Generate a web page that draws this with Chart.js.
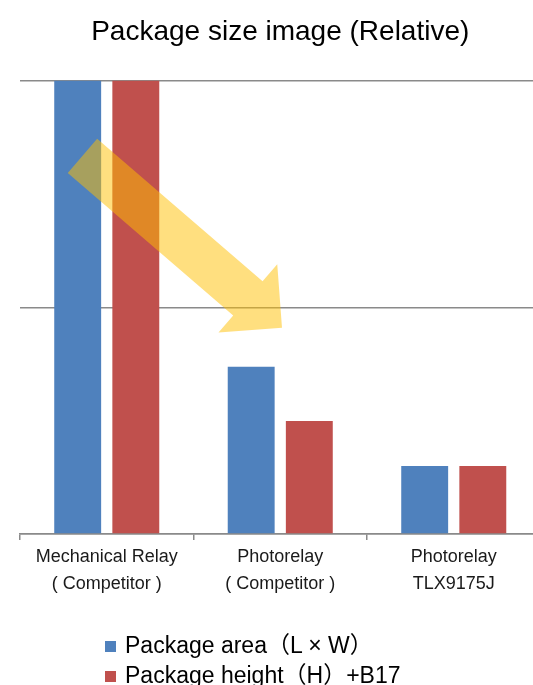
<!DOCTYPE html>
<html>
<head>
<meta charset="utf-8">
<script src="https://cdn.jsdelivr.net/npm/chart.js@4"></script>
<style>
  html, body { margin: 0; padding: 0; background: #fff; }
  #wrap { position: relative; width: 533px; height: 685px; overflow: hidden; }
  #wrap canvas { position: absolute; left: 0; top: 0; }
  #legend { position: absolute; left: 105px; top: 630px; font-family: "Liberation Sans", Arial, "Noto Sans CJK JP", sans-serif; font-size: 23px; color: #000; }
  #legend .row { height: 30px; line-height: 30px; white-space: nowrap; }
  #legend .box { display: inline-block; width: 11px; height: 11px; margin-right: 9px; vertical-align: 1px; }
</style>
</head>
<body>
<div id="wrap">
  <canvas id="c" width="568" height="685" style="width:568px;height:685px"></canvas>
  <div id="legend"></div>
</div>
<script>
const categories = [
  ["Mechanical Relay", "( Competitor )"],
  ["Photorelay", "( Competitor )"],
  ["Photorelay", "TLX9175J"]
];
const seriesNames = ["Package area（L × W）", "Package height（H）+B17"];
const packageArea = [1.0, 0.369, 0.150];
const packageHeight = [1.0, 0.249, 0.150];
const seriesColors = ["#4F81BD", "#C0504D"];
const yTicks = [0, 0.5, 1];
const titleText = "Package size image (Relative)";

// Decorative arrow: tail and tip in data space (category index, value)
const arrowTail = [-0.14, 0.834];
const arrowTip = [1.01, 0.455];

const arrowPlugin = {
  id: 'arrow',
  afterDatasetsDraw(chart) {
    const xs = chart.scales.x, ys = chart.scales.y, ctx = chart.ctx;
    const x0 = xs.getPixelForValue(arrowTail[0]), y0 = ys.getPixelForValue(arrowTail[1]);
    const x1 = xs.getPixelForValue(arrowTip[0]), y1 = ys.getPixelForValue(arrowTip[1]);
    const dx = x1 - x0, dy = y1 - y0, L = Math.hypot(dx, dy);
    const ux = dx / L, uy = dy / L, px = -uy, py = ux;
    const sw = 22.5, hw = 45, hl = 45;
    const bx = x1 - ux * hl, by = y1 - uy * hl;
    ctx.save();
    ctx.fillStyle = 'rgba(255,192,0,0.5)';
    ctx.beginPath();
    ctx.moveTo(x0 + px * sw, y0 + py * sw);
    ctx.lineTo(bx + px * sw, by + py * sw);
    ctx.lineTo(bx + px * hw, by + py * hw);
    ctx.lineTo(x1, y1);
    ctx.lineTo(bx - px * hw, by - py * hw);
    ctx.lineTo(bx - px * sw, by - py * sw);
    ctx.lineTo(x0 - px * sw, y0 - py * sw);
    ctx.closePath();
    ctx.fill();
    ctx.restore();
  }
};

const chart = new Chart(document.getElementById('c'), {
  type: 'bar',
  data: {
    labels: categories,
    datasets: [
      { label: seriesNames[0], data: packageArea, backgroundColor: seriesColors[0] },
      { label: seriesNames[1], data: packageHeight, backgroundColor: seriesColors[1] }
    ]
  },
  options: {
    responsive: false,
    animation: false,
    devicePixelRatio: 1,
    categoryPercentage: 0.67,
    barPercentage: 0.807,
    layout: { padding: { left: 20, right: 27.5, top: 0, bottom: 83 } },
    plugins: {
      legend: { display: false },
      tooltip: { enabled: false },
      title: {
        display: true,
        text: titleText,
        color: '#000',
        font: { family: '"Liberation Sans", Arial, sans-serif', size: 28, weight: 'normal', lineHeight: 1.2 },
        padding: { top: 15, bottom: 32 }
      }
    },
    scales: {
      x: {
        grid: { drawOnChartArea: false, drawTicks: true, tickLength: 6, color: '#8a8a8a', lineWidth: 1.5 },
        border: { display: true, color: '#8a8a8a', width: 1.5 },
        ticks: {
          color: '#1a1a1a',
          padding: 4,
          maxRotation: 0,
          autoSkip: false,
          font: { family: '"Liberation Sans", Arial, sans-serif', size: 18, lineHeight: 1.5 }
        }
      },
      y: {
        min: 0, max: 1,
        afterBuildTicks(axis) { axis.ticks = yTicks.map(v => ({ value: v })); },
        grid: { color: '#8a8a8a', lineWidth: 1.5, drawTicks: false },
        border: { display: false },
        ticks: { display: false }
      }
    }
  },
  plugins: [arrowPlugin]
});

const legend = document.getElementById('legend');
chart.data.datasets.forEach(ds => {
  const row = document.createElement('div');
  row.className = 'row';
  const box = document.createElement('span');
  box.className = 'box';
  box.style.background = ds.backgroundColor;
  row.appendChild(box);
  row.appendChild(document.createTextNode(ds.label));
  legend.appendChild(row);
});
</script>
</body>
</html>
